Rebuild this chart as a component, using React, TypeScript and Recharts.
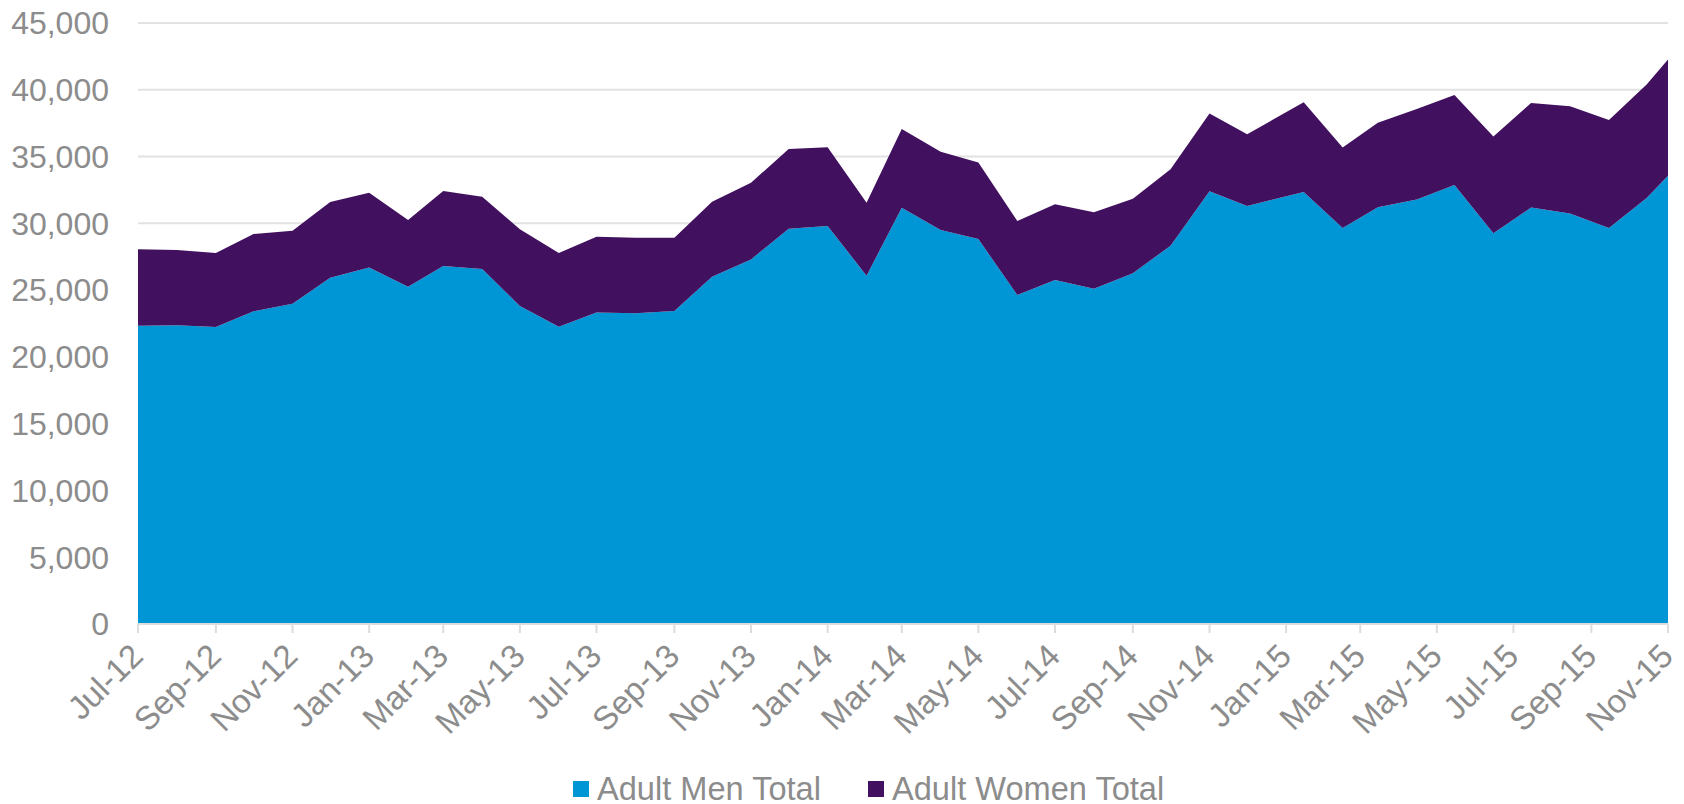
import React from "react";
import {
  Area,
  AreaChart,
  CartesianGrid,
  Legend,
  XAxis,
  YAxis,
} from "recharts";

// point dates (2015 figures are dated mid-month, as in the source sheet)
const dates = [
  "2012-07-01","2012-08-01","2012-09-01","2012-10-01","2012-11-01","2012-12-01",
  "2013-01-01","2013-02-01","2013-03-01","2013-04-01","2013-05-01","2013-06-01",
  "2013-07-01","2013-08-01","2013-09-01","2013-10-01","2013-11-01","2013-12-01",
  "2014-01-01","2014-02-01","2014-03-01","2014-04-01","2014-05-01","2014-06-01",
  "2014-07-01","2014-08-01","2014-09-01","2014-10-01","2014-11-01","2014-12-01",
  "2015-01-15","2015-02-15","2015-03-15","2015-04-15","2015-05-15","2015-06-15",
  "2015-07-15","2015-08-15","2015-09-15","2015-10-15","2015-11-01",
];

const menTotal = [
  22340, 22360, 22240, 23410, 23980, 25930,
  26700, 25260, 26800, 26580, 23810, 22260,
  23330, 23260, 23430, 26000, 27300, 29600,
  29800, 26080, 31170, 29500, 28820, 24630,
  25760, 25110, 26260, 28330, 32410, 31300,
  32340, 29650, 31200, 31780, 32870, 29260,
  31180, 30730, 29650, 31890, 33560,
];

const womenTotal = [
  5718, 5641, 5541, 5790, 5463, 5665,
  5590, 4991, 5616, 5414, 5742, 5516,
  5663, 5663, 5488, 5616, 5738, 5965,
  5890, 5466, 5891, 5864, 5742, 5541,
  5666, 5718, 5588, 5718, 5811, 5370,
  6720, 6030, 6340, 6780, 6730, 7240,
  7830, 8030, 8080, 8510, 8700,
];

const tickDates = [
  "2012-07-01","2012-09-01","2012-11-01","2013-01-01","2013-03-01","2013-05-01",
  "2013-07-01","2013-09-01","2013-11-01","2014-01-01","2014-03-01","2014-05-01",
  "2014-07-01","2014-09-01","2014-11-01","2015-01-01","2015-03-01","2015-05-01",
  "2015-07-01","2015-09-01","2015-11-01",
];

const yTicks = [0, 5000, 10000, 15000, 20000, 25000, 30000, 35000, 40000, 45000];

const MONTHS = ["Jan","Feb","Mar","Apr","May","Jun","Jul","Aug","Sep","Oct","Nov","Dec"];

const MEN_COLOR = "#0096d6";
const WOMEN_COLOR = "#41105e";
const TEXT_COLOR = "#8c8c8c";
const FONT = "'Liberation Sans', Arial, sans-serif";

const toTime = (s: string) => {
  const [y, m, d] = s.split("-").map(Number);
  return Date.UTC(y, m - 1, d);
};

const fmtMonth = (t: number) => {
  const d = new Date(t);
  return `${MONTHS[d.getUTCMonth()]}-${String(d.getUTCFullYear()).slice(2)}`;
};

const data = dates.map((d, i) => ({
  t: toTime(d),
  men: menTotal[i],
  women: womenTotal[i],
}));

const xTicks = tickDates.map(toTime);

// rotated month label, text ends just right of the tick
const XTick = (props: any) => {
  const { x, y, payload } = props;
  const ex = x + 7;
  const ey = y + 21;
  return (
    <text
      x={ex}
      y={ey}
      textAnchor="end"
      transform={`rotate(-45, ${ex}, ${ey})`}
      fill={TEXT_COLOR}
      fontSize={33}
      fontFamily={FONT}
    >
      {fmtMonth(payload.value)}
    </text>
  );
};

const LegendBox = () => (
  <div
    style={{
      display: "flex",
      alignItems: "center",
      paddingLeft: 573,
      paddingTop: 40,
      fontFamily: FONT,
      fontSize: 32.6,
      color: TEXT_COLOR,
      lineHeight: "30px",
      whiteSpace: "nowrap",
    }}
  >
    <span style={{ width: 16, height: 16, background: MEN_COLOR, marginRight: 8 }} />
    <span style={{ marginRight: 47 }}>Adult Men Total</span>
    <span style={{ width: 16, height: 16, background: WOMEN_COLOR, marginRight: 8 }} />
    <span>Adult Women Total</span>
  </div>
);

export default function App() {
  return (
    <div style={{ position: "absolute", left: 0, top: 0, background: "#fff" }}>
      <AreaChart
        width={1684}
        height={804}
        data={data}
        margin={{ top: 23, right: 16, left: 0, bottom: 0 }}
      >
        <CartesianGrid vertical={false} stroke="#e2e2e2" strokeWidth={2} />
        <XAxis
          dataKey="t"
          type="number"
          domain={[xTicks[0], xTicks[xTicks.length - 1]]}
          ticks={xTicks}
          interval={0}
          height={110}
          tickSize={9}
          tickMargin={4}
          stroke="#dcdcdc"
          axisLine={{ stroke: "#dcdcdc", strokeWidth: 2 }}
          tickLine={{ stroke: "#dcdcdc", strokeWidth: 2 }}
          tick={<XTick />}
        />
        <YAxis
          type="number"
          domain={[0, 45000]}
          ticks={yTicks}
          width={138}
          axisLine={false}
          tickLine={false}
          tickSize={0}
          tickMargin={29}
          tickFormatter={(v: number) => v.toLocaleString("en-US")}
          tick={{ fill: TEXT_COLOR, fontSize: 32, fontFamily: FONT }}
        />
        <Legend verticalAlign="bottom" height={70} wrapperStyle={{ left: 0, width: 1684 }} content={() => <LegendBox />} />
        <Area
          type="linear"
          dataKey="men"
          name="Adult Men Total"
          stackId="1"
          stroke="none"
          fill={MEN_COLOR}
          fillOpacity={1}
          isAnimationActive={false}
        />
        <Area
          type="linear"
          dataKey="women"
          name="Adult Women Total"
          stackId="1"
          stroke="none"
          fill={WOMEN_COLOR}
          fillOpacity={1}
          isAnimationActive={false}
        />
      </AreaChart>
    </div>
  );
}
